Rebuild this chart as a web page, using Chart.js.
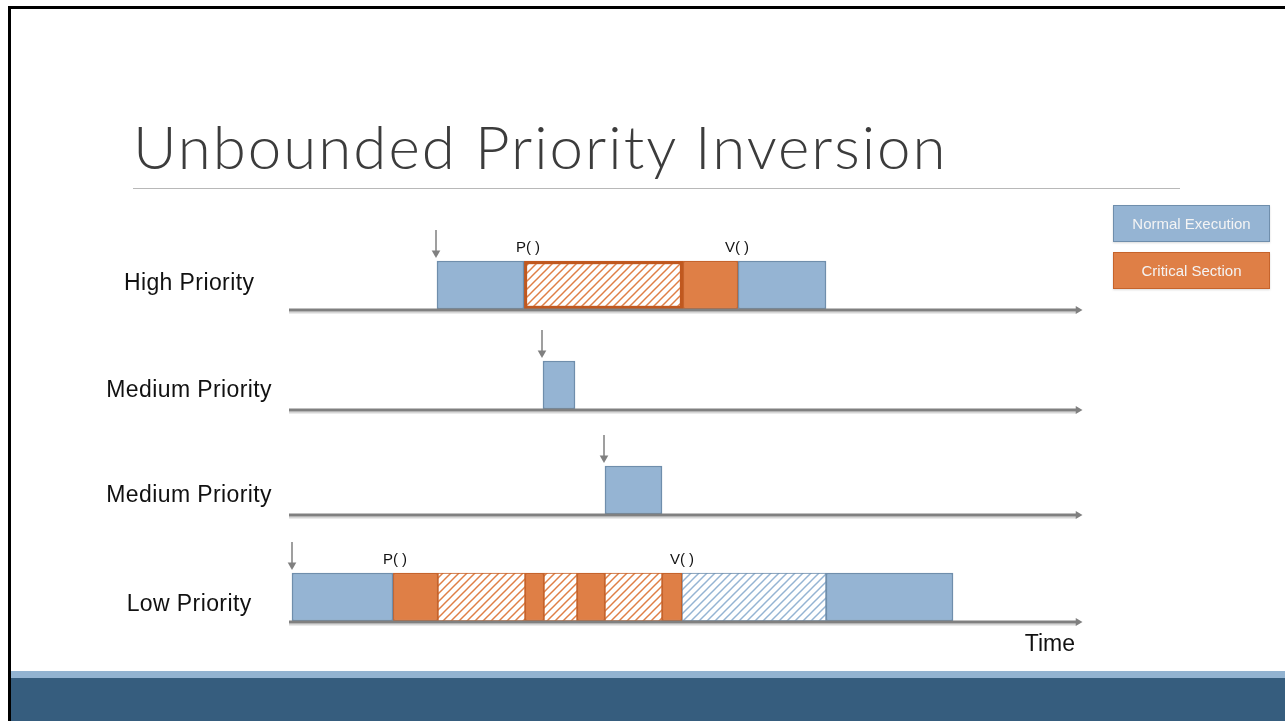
<!DOCTYPE html>
<html>
<head>
<meta charset="utf-8">
<script src="https://cdn.jsdelivr.net/npm/chart.js@4.4.0/dist/chart.umd.min.js"></script>
<style>
html, body { margin: 0; padding: 0; background: #fff; }
#slide { position: relative; width: 1285px; height: 721px; overflow: hidden; background: #fff; }
#frameTop { position: absolute; left: 8px; top: 6px; right: 0; height: 3px; background: #000; }
#frameLeft { position: absolute; left: 8px; top: 6px; width: 3px; bottom: 0; background: #000; }
#title { position: absolute; left: 133px; top: 116px; font: 300 60px Lato, "Liberation Sans", sans-serif; line-height: 60px; letter-spacing: 2px; color: #3c3c3c; white-space: nowrap; }
#rule { position: absolute; left: 133px; top: 188px; width: 1047px; height: 1px; background: #b8b8b8; }
#footLight { position: absolute; left: 11px; right: 0; top: 671px; height: 7px; background: #92b3d1; }
#footDark { position: absolute; left: 11px; right: 0; top: 678px; bottom: 0; background: #365d7e; }
#chart { position: absolute; left: 0; top: 0; }
.key { position: absolute; left: 1113px; width: 157px; height: 37px; box-sizing: border-box; border: 1.5px solid; color: #f4f4f4;
       font: 15px "Liberation Sans", Arial, sans-serif; display: flex; align-items: center; justify-content: center;
       box-shadow: 0 1px 2px rgba(0,0,0,0.15); }
</style>
</head>
<body>
<div id="slide">
  <div id="frameTop"></div>
  <div id="frameLeft"></div>
  <div id="title">Unbounded Priority Inversion</div>
  <div id="rule"></div>
  <div id="footLight"></div>
  <div id="footDark"></div>
  <canvas id="chart" width="1285" height="721"></canvas>
</div>
<script>
// rows of the timeline (top to bottom)
const rowNames = ['High Priority', 'Medium Priority', 'Medium Priority', 'Low Priority'];
const rowCenters = [285, 385, 490, 597];
const rowLabelY = [284, 391, 496, 605];

// runs: [row, start, end] in time units
const normalRuns = [[0, 147, 234], [0, 448, 536], [1, 253, 285], [2, 315, 372], [3, 2, 103], [3, 536, 663]];
const criticalRuns = [[0, 393, 448], [3, 103, 148], [3, 235, 254], [3, 287, 315], [3, 372, 392]];
const blockedRuns = [[0, 234, 393]];
const preemptedCriticalRuns = [[3, 148, 235], [3, 254, 287], [3, 315, 372]];
const preemptedNormalRuns = [[3, 392, 536]];

// task arrivals: [row, time]
const arrivals = [[0, 146], [1, 252], [2, 314], [3, 2]];
// semaphore calls: [row, time, text]
const semaphoreCalls = [[0, 238, 'P( )'], [0, 447, 'V( )'], [3, 105, 'P( )'], [3, 392, 'V( )']];

const timeEnd = 792;
const timeLabel = 'Time';
const legendLabels = ['Normal Execution', 'Critical Section'];

const BLUE = '#95b4d3', BLUE_EDGE = '#6f8eac';
const ORANGE = '#df7f46', ORANGE_EDGE = '#c6632b';
const AXIS = '#808080';

// legend boxes
const legendFill = [BLUE, ORANGE];
const legendEdge = [BLUE_EDGE, ORANGE_EDGE];
legendLabels.forEach((txt, i) => {
    const d = document.createElement('div');
    d.className = 'key';
    d.style.top = (205 + i * 47) + 'px';
    d.style.background = legendFill[i];
    d.style.borderColor = legendEdge[i];
    d.textContent = txt;
    document.getElementById('slide').appendChild(d);
});

// white fill with "/" stripes
function hatch(color) {
    const tile = document.createElement('canvas');
    tile.width = tile.height = 8;
    const g = tile.getContext('2d');
    g.fillStyle = '#fff';
    g.fillRect(0, 0, 8, 8);
    g.strokeStyle = color;
    g.lineWidth = 1.5;
    [0, 8, 16].forEach(k => {
        g.beginPath();
        g.moveTo(-8, k + 8);
        g.lineTo(k + 8, -8);
        g.stroke();
    });
    return document.createElement('canvas').getContext('2d').createPattern(tile, 'repeat');
}

function bars(runs) {
    return runs.map(r => ({ y: rowCenters[r[0]], x: [r[1], r[2]] }));
}

function barSet(runs, fill, edge, width) {
    return {
        type: 'bar', indexAxis: 'y', grouped: false, order: 1,
        data: bars(runs),
        backgroundColor: fill, borderColor: edge, borderWidth: width,
        borderSkipped: false, barThickness: 48
    };
}

const datasets = [];

// time axes with arrowheads
rowCenters.forEach(c => {
    datasets.push({
        type: 'line', indexAxis: 'x', order: 0, clip: false,
        data: [{ x: -1, y: c + 25 }, { x: timeEnd - 4, y: c + 25 }],
        borderColor: AXIS, borderWidth: 3,
        pointRadius: [0, 4.5], pointStyle: 'triangle', pointRotation: 90,
        pointBackgroundColor: AXIS, pointBorderWidth: 0
    });
    datasets.push({
        type: 'line', indexAxis: 'x', order: 3, clip: false,
        data: [{ x: -1, y: c + 27.5 }, { x: timeEnd - 6, y: c + 27.5 }],
        borderColor: '#d6d6d6', borderWidth: 2, pointRadius: 0
    });
});

// arrival arrows
arrivals.forEach(([row, t]) => {
    const top = rowCenters[row] - 24;
    datasets.push({
        type: 'line', indexAxis: 'x', order: 0, clip: false,
        data: [{ x: t, y: top - 31 }, { x: t, y: top - 8 }],
        borderColor: AXIS, borderWidth: 1.5,
        pointRadius: [0, 5], pointStyle: 'triangle', pointRotation: 180,
        pointBackgroundColor: AXIS, pointBorderWidth: 0
    });
});

datasets.push(barSet(normalRuns, BLUE, BLUE_EDGE, 1.5));
datasets.push(barSet(criticalRuns, ORANGE, ORANGE_EDGE, 1.5));
datasets.push(barSet(blockedRuns, hatch(ORANGE), '#c0581f', 3.5));
datasets.push(barSet(preemptedCriticalRuns, hatch(ORANGE), ORANGE_EDGE, 1));
datasets.push(barSet(preemptedNormalRuns, hatch(BLUE), BLUE_EDGE, 1));

const annotate = {
    id: 'annotate',
    beforeUpdate(chart) { chart.ctx.letterSpacing = '0.4px'; },
    beforeDraw(chart) { chart.ctx.letterSpacing = '0.4px'; },
    afterDatasetsDraw(chart) {
        const { ctx, scales: { x, y } } = chart;
        ctx.save();
        ctx.letterSpacing = '0px';
        ctx.fillStyle = '#111';
        ctx.textAlign = 'center';
        ctx.textBaseline = 'middle';
        ctx.font = '15px "Liberation Sans", Arial, sans-serif';
        semaphoreCalls.forEach(([row, t, txt]) => {
            ctx.fillText(txt, x.getPixelForValue(t), y.getPixelForValue(rowCenters[row] - 24) - 13);
        });
        ctx.font = '23px "Liberation Sans", Arial, sans-serif';
        ctx.textAlign = 'right';
        ctx.fillText(timeLabel, x.getPixelForValue(timeEnd) - 7, y.getPixelForValue(rowCenters[3] + 25) + 23);
        ctx.restore();
    }
};

new Chart(document.getElementById('chart'), {
    data: { datasets: datasets },
    plugins: [annotate],
    options: {
        responsive: false,
        animation: false,
        events: [],
        indexAxis: 'y',
        layout: { padding: { left: 0, top: 200, right: 203, bottom: 61 } },
        plugins: { legend: { display: false }, tooltip: { enabled: false } },
        scales: {
            x: { type: 'linear', min: 0, max: timeEnd, display: false },
            y: {
                type: 'linear', reverse: true, min: 200, max: 660, offset: false,
                grid: { display: false }, border: { display: false },
                afterBuildTicks: scale => { scale.ticks = rowLabelY.map(v => ({ value: v })); },
                afterFit: scale => { scale.width = 290; },
                ticks: {
                    autoSkip: false, crossAlign: 'center', padding: 10, color: '#111',
                    font: { family: '"Liberation Sans", Arial, sans-serif', size: 23 },
                    callback: value => rowNames[rowLabelY.indexOf(value)]
                }
            }
        }
    }
});
</script>
</body>
</html>
